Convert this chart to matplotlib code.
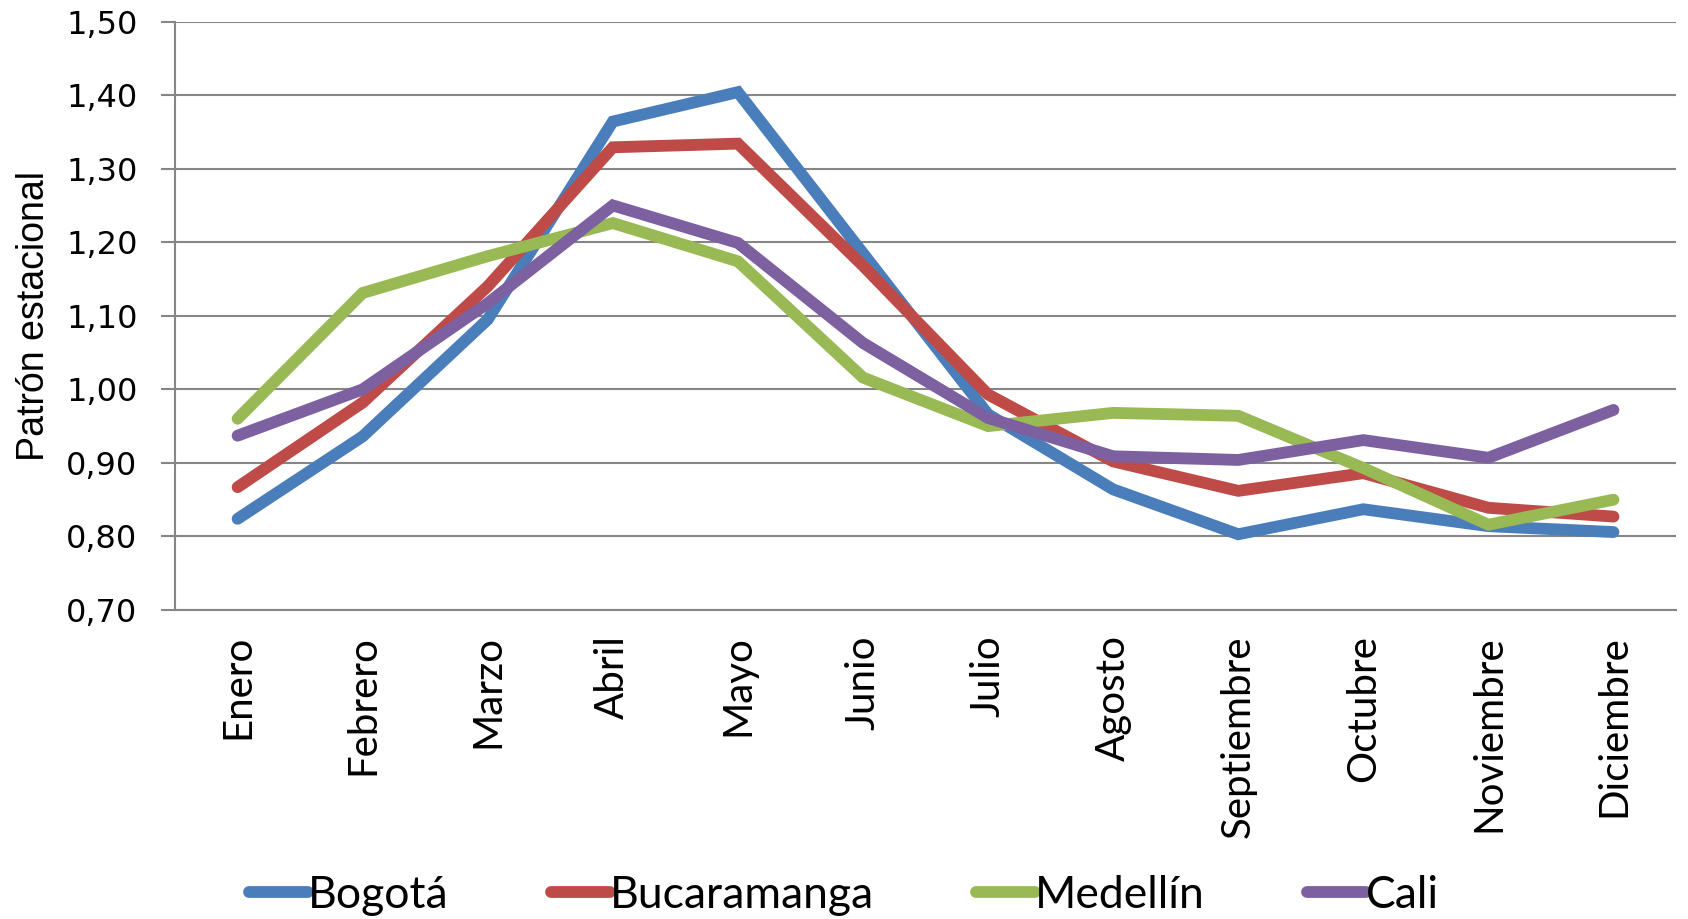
import matplotlib
matplotlib.use("Agg")
import matplotlib.pyplot as plt
import numpy as np

meses = ['Enero', 'Febrero', 'Marzo', 'Abril', 'Mayo', 'Junio', 'Julio',
         'Agosto', 'Septiembre', 'Octubre', 'Noviembre', 'Diciembre']

bogota = [0.824, 0.936, 1.095, 1.364, 1.404, 1.185, 0.966, 0.864, 0.803, 0.837, 0.814, 0.806]
bucaramanga = [0.867, 0.982, 1.140, 1.329, 1.334, 1.168, 0.993, 0.902, 0.862, 0.886, 0.839, 0.827]
medellin = [0.960, 1.131, 1.181, 1.226, 1.174, 1.016, 0.950, 0.968, 0.964, 0.893, 0.816, 0.850]
cali = [0.937, 1.000, 1.117, 1.250, 1.199, 1.063, 0.961, 0.909, 0.904, 0.931, 0.907, 0.972]

series = [('Bogotá', bogota, '#4a7ebb'),
          ('Bucaramanga', bucaramanga, '#be4b48'),
          ('Medellín', medellin, '#98b954'),
          ('Cali', cali, '#7d60a0')]

yticks = np.arange(0.70, 1.501, 0.10)

fig = plt.figure(figsize=(16.88, 9.19), dpi=100)
ax = fig.add_axes([0.1037, 0.3362, 0.8892, 0.6404])

x = np.arange(len(meses))
for name, vals, col in series:
    ax.plot(x, vals, color=col, lw=8.5, solid_capstyle='round',
            solid_joinstyle='miter', label=name)

ax.set_xlim(-0.5, 11.5)
ax.set_ylim(0.70, 1.50)
ax.set_yticks(yticks)
ax.set_yticklabels([f'{v:.2f}'.replace('.', ',') for v in yticks],
                   family='DejaVu Sans', fontsize=23)
ax.set_xticks(x)
ax.set_xticklabels(meses, rotation=90, family='Lato', fontsize=29)
ax.tick_params(axis='x', length=0, pad=18)
ax.tick_params(axis='y', length=10, width=1.5, color='#868686', pad=17)

ax.grid(axis='y', color='#868686', lw=1.5)
ax.set_axisbelow(True)
for s in ['top', 'right']:
    ax.spines[s].set_visible(False)
ax.spines['left'].set_color('#868686')
ax.spines['left'].set_linewidth(1.5)
ax.spines['bottom'].set_color('#868686')
ax.spines['bottom'].set_linewidth(1.5)

ax.set_ylabel('Patrón estacional', family='Liberation Sans', fontsize=27, labelpad=10)

leg = fig.legend(loc='center', bbox_to_anchor=(0.5, 0.026), ncol=4, frameon=False,
                 prop={'family': 'Lato', 'size': 32}, handlelength=1.33,
                 handletextpad=0.0, columnspacing=2.3)

fig.savefig('out.png', dpi=100)
